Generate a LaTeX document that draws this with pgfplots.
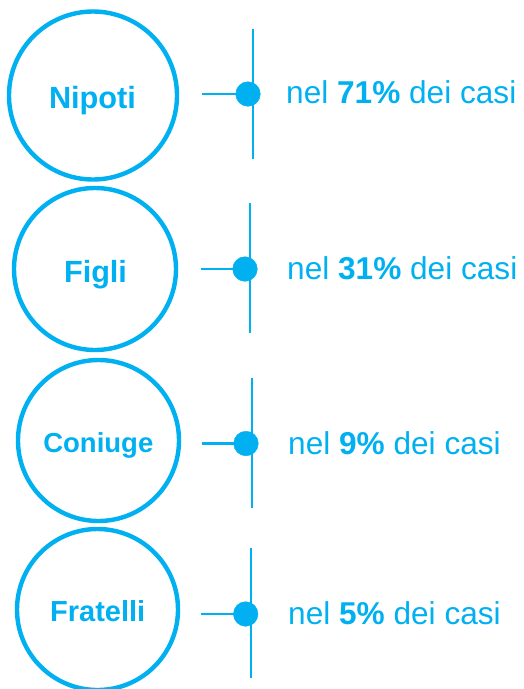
\documentclass[border=0pt]{standalone}
\usepackage{pgfplots}
\pgfplotsset{compat=1.18}
\usepackage{fontspec}
\setmainfont{Liberation Sans}
\definecolor{cyb}{HTML}{00B0F0}
\begin{document}
\begin{tikzpicture}
\begin{axis}[
  width=523pt, height=689pt, scale only axis,
  xmin=0, xmax=523, ymin=0, ymax=689, y dir=reverse,
  hide axis, clip=true,
  every axis plot/.append style={cyb},
  lab/.style={draw=none, mark=none, point meta=explicit symbolic,
    nodes near coords={nel \textbf{\pgfplotspointmeta\%} dei casi},
    every node near coord/.append style={anchor=base west, inner sep=0pt, text=cyb,
      font=\fontsize{31.6}{36}\selectfont}},
  nam/.style={draw=none, mark=none, point meta=explicit symbolic,
    nodes near coords={\textbf{\pgfplotspointmeta}},
    every node near coord/.append style={anchor=base, inner sep=0pt, text=cyb,
      font=\fontsize{#1}{36}\selectfont}},
  ring/.style={only marks, mark=o, mark size=#1, mark options={line width=4.4pt}},
  seg/.style={line width=2.6pt, mark=none},
  dot/.style={only marks, mark=*, mark size=12.3pt},
]
% --- Nipoti 71%
\addplot[ring=84pt] coordinates {(93,95.5)};
\addplot[seg] coordinates {(202,94) (248,94)};
\addplot[seg] coordinates {(253,29) (253,159)};
\addplot[dot] coordinates {(248,94)};
\addplot[nam=30.7] coordinates {(92.5,108) [Nipoti]};
\addplot[lab] coordinates {(286,103.5) [71]};
% --- Figli 31%
\addplot[ring=81pt] coordinates {(95,269)};
\addplot[seg] coordinates {(201,269) (245,269)};
\addplot[seg] coordinates {(250,203) (250,333)};
\addplot[dot] coordinates {(245,269)};
\addplot[nam=30.6] coordinates {(95.5,282) [Figli]};
\addplot[lab] coordinates {(287,279) [31]};
% --- Coniuge 9%
\addplot[ring=80.5pt] coordinates {(98.5,440.5)};
\addplot[seg] coordinates {(202,443.5) (246,443.5)};
\addplot[seg] coordinates {(252,378) (252,508)};
\addplot[dot] coordinates {(246,443.5)};
\addplot[nam=27.5] coordinates {(98.3,452.7) [Coniuge]};
\addplot[lab] coordinates {(288,454) [9]};
% --- Fratelli 5%
\addplot[ring=80.5pt] coordinates {(97.5,609.5)};
\addplot[seg] coordinates {(201,614) (245.7,614)};
\addplot[seg] coordinates {(251,548) (251,678)};
\addplot[dot] coordinates {(245.7,614)};
\addplot[nam=29] coordinates {(97.7,621.7) [Fratelli]};
\addplot[lab] coordinates {(288,624) [5]};
\end{axis}
\pgfresetboundingbox
\useasboundingbox (0,0) rectangle (523pt,689pt);
\end{tikzpicture}
\end{document}
